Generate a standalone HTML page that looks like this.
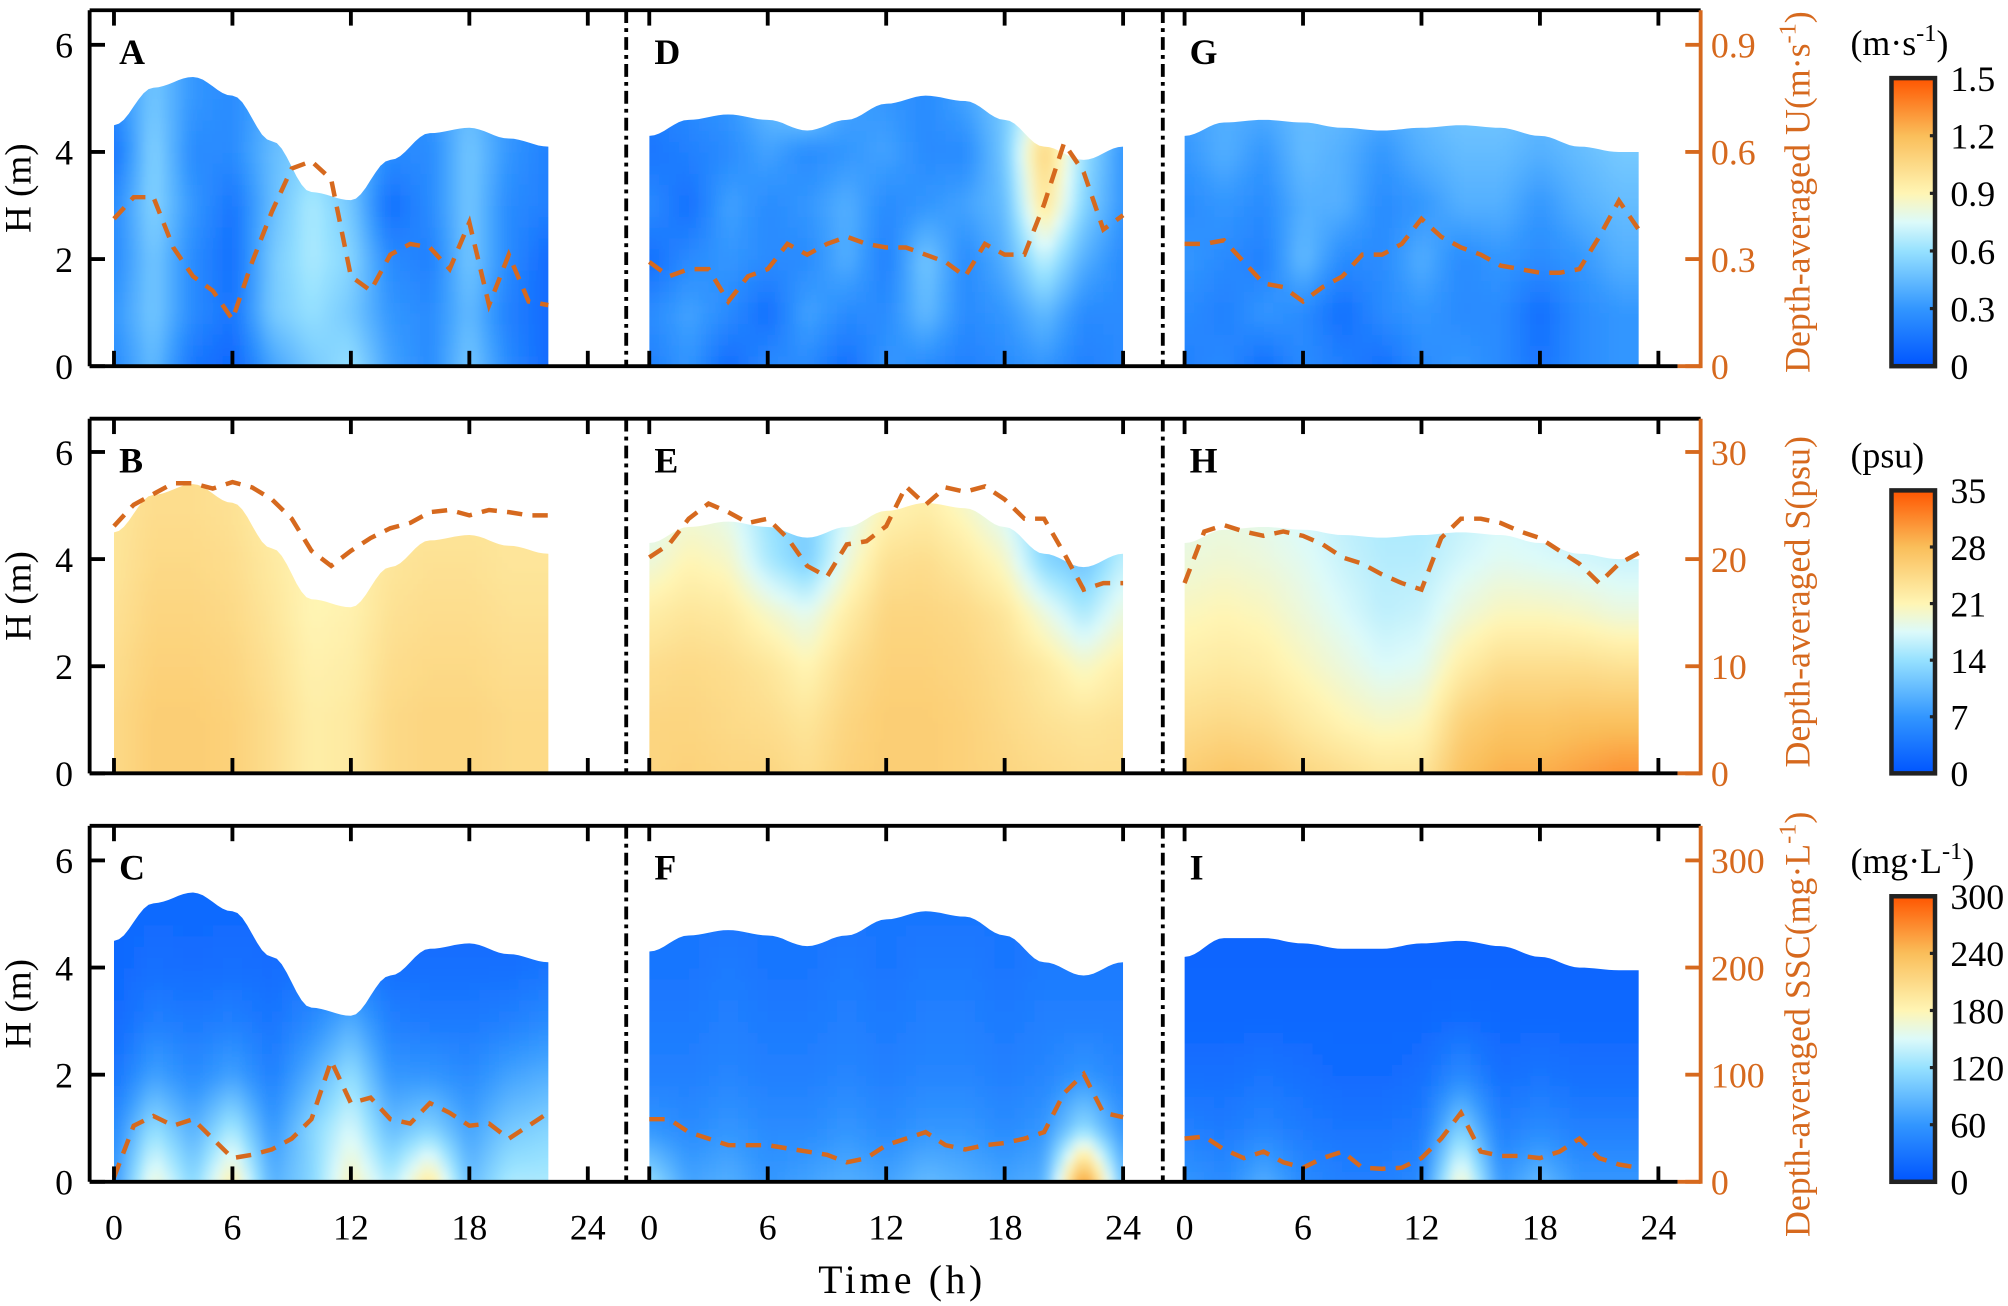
<!DOCTYPE html>
<html><head><meta charset="utf-8"><style>
html,body{margin:0;padding:0;background:#fff;overflow:hidden;}
svg{display:block;font-family:"Liberation Serif",serif;}
</style></head><body>
<svg id="chart" width="2008" height="1306" viewBox="0 0 1568 1020" preserveAspectRatio="none" xmlns="http://www.w3.org/2000/svg">
<defs>
<filter id="blur" x="-5%" y="-5%" width="110%" height="110%"><feGaussianBlur stdDeviation="3.5"/></filter>
<linearGradient id="cmap" x1="0" y1="1" x2="0" y2="0">
<stop offset="0" stop-color="rgb(0,85,255)"/><stop offset="0.2" stop-color="rgb(50,150,255)"/>
<stop offset="0.4" stop-color="rgb(150,225,255)"/><stop offset="0.5" stop-color="rgb(220,250,250)"/>
<stop offset="0.6" stop-color="rgb(255,245,180)"/><stop offset="0.8" stop-color="rgb(250,190,90)"/>
<stop offset="1" stop-color="rgb(255,85,0)"/>
</linearGradient>
</defs>
<g id="root"></g>
</svg>
<script>
// ---- data ----
const timeTicks = [0, 6, 12, 18, 24];
const depthTicks = [0, 2, 4, 6];
const rightTicksU = [0, 0.3, 0.6, 0.9];
const rightTicksS = [0, 10, 20, 30];
const rightTicksSSC = [0, 100, 200, 300];
const cbTicksU = ["0","0.3","0.6","0.9","1.2","1.5"];
const cbTicksS = ["0","7","14","21","28","35"];
const cbTicksSSC = ["0","60","120","180","240","300"];
// surface height (m), every 2 h
const surf1 = [4.5,5.2,5.4,5.05,4.2,3.25,3.1,3.85,4.35,4.45,4.25,4.1];
const surf2 = [4.3,4.6,4.7,4.6,4.4,4.6,4.9,5.05,4.95,4.6,4.1,3.85,4.1];
const surf3 = [4.3,4.55,4.6,4.55,4.45,4.4,4.45,4.5,4.45,4.3,4.1,4.0];
const surf3c = [4.2,4.55,4.55,4.45,4.35,4.35,4.45,4.5,4.4,4.2,4.0,3.95];
// depth-averaged series, hourly
const lineA = [0.41,0.47,0.47,0.33,0.25,0.21,0.13,0.29,0.43,0.55,0.57,0.52,0.25,0.21,0.31,0.34,0.33,0.27,0.40,0.17,0.31,0.18,0.17];
const lineD = [0.29,0.25,0.27,0.27,0.18,0.25,0.27,0.34,0.31,0.34,0.36,0.34,0.33,0.33,0.31,0.29,0.25,0.34,0.31,0.31,0.45,0.62,0.54,0.38,0.42];
const lineG = [0.34,0.34,0.35,0.29,0.23,0.22,0.18,0.22,0.25,0.31,0.31,0.34,0.41,0.36,0.33,0.31,0.28,0.27,0.26,0.26,0.27,0.36,0.46,0.38];
const lineB = [23,25,26,27,27,26.5,27.1,26.6,25.5,23.7,20.7,19.3,20.7,21.9,22.8,23.3,24.3,24.5,24,24.5,24.3,24,24];
const lineE = [20.1,21.3,23.7,25.1,24.3,23.3,23.7,21.9,19.3,18.3,21.3,21.6,23,26.7,25,26.6,26.2,26.7,25.5,23.7,23.7,20.5,17.1,17.7,17.7];
const lineH = [17.7,22.5,23.1,22.5,22.1,22.5,22.1,21.3,20.1,19.5,18.5,17.7,17.1,21.9,23.7,23.7,23.3,22.5,21.9,20.7,19.5,17.7,19.5,20.5];
const lineC = [4,52,61,52,58,40,22,25,30,40,58,112,73,78,58,54,73,64,52,54,40,52,64];
const lineF = [58,58,46,40,34,34,34,31,28,25,18,22,34,40,46,34,30,34,36,40,46,82,100,64,60];
const lineI = [40,42,30,22,28,18,13,22,28,13,12,13,22,40,64,28,24,24,22,28,40,22,16,13];
// fields: rows z = 0..5 m, columns every 2 h
const fieldA = [
[0.25,0.45,0.15,0.08,0.35,0.5,0.6,0.35,0.25,0.5,0.25,0.1],
[0.3,0.5,0.25,0.15,0.5,0.6,0.5,0.3,0.25,0.45,0.2,0.1],
[0.25,0.5,0.25,0.12,0.5,0.65,0.55,0.25,0.2,0.5,0.25,0.1],
[0.25,0.55,0.3,0.15,0.45,0.65,0.5,0.12,0.25,0.5,0.25,0.2],
[0.15,0.55,0.25,0.25,0.45,0.55,0.45,0.25,0.25,0.5,0.3,0.2],
[0.25,0.5,0.3,0.25,0.4,0.5,0.4,0.25,0.3,0.45,0.3,0.25]];
const fieldD = [
[0.2,0.3,0.1,0.25,0.25,0.12,0.3,0.25,0.2,0.25,0.3,0.2,0.25],
[0.25,0.35,0.25,0.12,0.35,0.25,0.25,0.45,0.25,0.3,0.45,0.25,0.25],
[0.12,0.25,0.3,0.25,0.25,0.4,0.2,0.5,0.25,0.4,0.7,0.4,0.25],
[0.25,0.12,0.35,0.25,0.3,0.4,0.25,0.3,0.35,0.45,1.0,0.55,0.3],
[0.15,0.2,0.25,0.35,0.25,0.3,0.35,0.25,0.25,0.5,1.1,0.6,0.3],
[0.2,0.25,0.3,0.45,0.6,0.35,0.3,0.25,0.35,0.5,0.8,0.7,0.35]];
const fieldG = [
[0.2,0.25,0.12,0.25,0.2,0.12,0.25,0.3,0.25,0.15,0.25,0.3],
[0.25,0.2,0.3,0.25,0.12,0.25,0.3,0.25,0.25,0.12,0.25,0.3],
[0.3,0.25,0.2,0.45,0.25,0.25,0.4,0.25,0.3,0.25,0.3,0.4],
[0.25,0.3,0.25,0.4,0.4,0.25,0.3,0.4,0.4,0.3,0.4,0.45],
[0.3,0.4,0.3,0.45,0.4,0.3,0.4,0.45,0.45,0.4,0.45,0.5],
[0.35,0.4,0.4,0.45,0.45,0.4,0.45,0.5,0.5,0.45,0.5,0.6]];
const fieldB = [
[24.5,26,26,25.5,24,22,22.5,24.5,25,25,24.5,24.5],
[24.5,26,26,25.5,24,22,22.5,24.5,25,25,24.5,24.5],
[24,25.5,25.5,25,23.5,21.5,22,24,24.5,24.5,24,24],
[23.5,25,25,24.5,23,21,21.5,23.5,24,24,23.5,23.5],
[23,24.5,24.5,24,22.5,21,21,23,23.5,23.5,23,23],
[23,24,24,23.5,22,21,21,22.5,23,23,23,23]];
const fieldE = [
[25,25.5,25,25,24,25.5,26,26,25.5,25,24.5,24,24],
[25,25,24.5,24,23,25,26,26,25.5,24.5,23.5,23,23.5],
[24,24.5,24,23,21,24,25.5,25.5,25,24,22.5,20,22],
[22,23,22.5,20,18,22,25,25,24.5,23,19,15,19],
[19,21,20,15,12,19,23.5,24,22.5,20,13,11,16],
[17,19,18,14,12,17,21,22,20,17,12,11,14]];
const fieldH = [
[26,27,26.5,25,24,23,23,27.5,29,29,30,31],
[24,24.5,24,22.5,21,20,20.5,25.5,27,27,27.5,27.5],
[22,22.5,22,20.5,19,17.5,18,22,24,24,24,23.5],
[20.5,21,20.5,19,17.5,16,16.5,19,20.5,20.5,20,19],
[19,19.5,19,18,16.5,15.5,15.5,17,18,17.5,17,16.5],
[18,18.5,18,17,16,15,15,16,17,16.5,16,16]];
const fieldC = [
[60,170,110,190,80,110,180,130,200,90,130,130],
[50,120,80,130,60,110,150,90,110,70,100,110],
[30,70,50,70,40,80,120,60,60,50,70,80],
[20,40,35,40,30,50,80,40,35,35,40,50],
[18,25,22,25,22,30,40,25,25,25,25,30],
[18,20,20,20,20,25,25,20,20,20,20,25]];
const fieldF = [
[120,70,80,60,70,80,70,90,80,70,80,280,90],
[60,50,60,50,50,60,50,60,60,50,60,120,60],
[40,40,45,40,40,45,40,45,45,40,45,60,45],
[35,35,40,35,35,40,35,40,40,35,40,40,40],
[30,30,35,30,30,35,30,35,35,30,35,35,35],
[30,30,30,30,30,30,30,30,30,30,30,30,30]];
const fieldI = [
[60,50,80,50,40,40,50,180,60,90,60,60],
[40,35,45,35,30,30,35,110,40,50,40,40],
[25,25,30,25,20,20,25,50,25,30,25,25],
[18,18,18,18,18,18,18,22,18,18,18,18],
[15,15,15,15,15,15,15,15,15,15,15,15],
[15,15,15,15,15,15,15,15,15,15,15,15]];

// ---- geometry ----
const NS = "http://www.w3.org/2000/svg";
const root = document.getElementById("root");
const colX0 = [89, 507, 925];
const pxPerHour = 370 / 24;
const rowBase = [286, 604, 923];
const rowTop = [8, 327, 645];
const pxPerM = 251 / 6;
const ORANGE = "rgb(214,105,30)";
function xs(c, h) { return colX0[c] + h * pxPerHour; }
function ys(r, m) { return rowBase[r] - m * pxPerM; }
function el(tag, attrs, parent) {
  const e = document.createElementNS(NS, tag);
  for (const k in attrs) e.setAttribute(k, attrs[k]);
  (parent || root).appendChild(e);
  return e;
}
function txt(s, x, y, attrs, parent) {
  const t = el("text", Object.assign({x: x, y: y}, attrs), parent);
  t.textContent = s;
  return t;
}
const stops = [[0,[0,85,255]],[0.2,[50,150,255]],[0.4,[150,225,255]],[0.5,[220,250,250]],[0.6,[255,245,180]],[0.8,[250,190,90]],[1,[255,85,0]]];
function cmap(f) {
  f = Math.max(0, Math.min(1, f));
  for (let i = 1; i < stops.length; i++) {
    if (f <= stops[i][0]) {
      const a = stops[i-1], b = stops[i], t = (f - a[0]) / (b[0] - a[0]);
      return "rgb(" + [0,1,2].map(k => Math.round(a[1][k] + t * (b[1][k] - a[1][k]))).join(",") + ")";
    }
  }
  return "rgb(255,85,0)";
}
function sample(field, h, z) {
  const nc = field[0].length, nr = field.length;
  let c = Math.max(0, Math.min(nc - 1, h / 2)), r = Math.max(0, Math.min(nr - 1, z));
  const c0 = Math.floor(c), r0 = Math.floor(r);
  const c1 = Math.min(nc - 1, c0 + 1), r1 = Math.min(nr - 1, r0 + 1);
  const tc = c - c0, tr = r - r0;
  const a = field[r0][c0] * (1 - tc) + field[r0][c1] * tc;
  const b = field[r1][c0] * (1 - tc) + field[r1][c1] * tc;
  return a * (1 - tr) + b * tr;
}
function surfAt(surf, h) {
  const c = Math.max(0, Math.min(surf.length - 1, h / 2)), c0 = Math.floor(c), c1 = Math.min(surf.length - 1, c0 + 1);
  const t = (1 - Math.cos(Math.PI * (c - c0))) / 2;
  return surf[c0] + (surf[c1] - surf[c0]) * t;
}

const panels = [
  {c:0,r:0,L:"a",field:fieldA,surf:surf1,line:lineA,end:22,vmax:1.5,rmax:0.99},
  {c:1,r:0,L:"d",field:fieldD,surf:surf2,line:lineD,end:24,vmax:1.5,rmax:0.99},
  {c:2,r:0,L:"g",field:fieldG,surf:surf3,line:lineG,end:23,vmax:1.5,rmax:0.99},
  {c:0,r:1,L:"b",field:fieldB,surf:surf1,line:lineB,end:22,vmax:35,rmax:33},
  {c:1,r:1,L:"e",field:fieldE,surf:surf2,line:lineE,end:24,vmax:35,rmax:33},
  {c:2,r:1,L:"h",field:fieldH,surf:surf3,line:lineH,end:23,vmax:35,rmax:33},
  {c:0,r:2,L:"c",field:fieldC,surf:surf1,line:lineC,end:22,vmax:300,rmax:330},
  {c:1,r:2,L:"f",field:fieldF,surf:surf2,line:lineF,end:24,vmax:300,rmax:330},
  {c:2,r:2,L:"i",field:fieldI,surf:surf3c,line:lineI,end:23,vmax:300,rmax:330}
];

panels.forEach((p, i) => {
  const letter = p.L.toUpperCase();
  const g = el("g", {});
  
  
  let pts = [[xs(p.c,0), ys(p.r,0)]];
  for (let h = 0; h <= p.end + 0.001; h += 0.25) pts.push([xs(p.c,h), ys(p.r, surfAt(p.surf, h))]);
  pts.push([xs(p.c,p.end), ys(p.r,0)]);
  const cp = el("clipPath", {id: "clip" + i});
  el("polygon", {points: pts.map(q => q[0].toFixed(1) + "," + q[1].toFixed(1)).join(" ")}, cp);
  const cg = el("g", {"clip-path": "url(#clip" + i + ")"}, g);
  const hg = el("g", {filter: "url(#blur)"}, cg);
  
  
  const dh = 0.5, dz = 0.2;
  for (let h = -1; h < p.end + 1; h += dh) {
    for (let z = -0.4; z < 6.2; z += dz) {
      const v = sample(p.field, h + dh/2, z + dz/2);
      el("rect", {x: xs(p.c,h).toFixed(1), y: ys(p.r, z + dz).toFixed(1), width: (dh*pxPerHour+0.6).toFixed(1), height: (dz*pxPerM+0.6).toFixed(1), fill: cmap(v / p.vmax)}, hg);
    }
  }
  const lp = p.line.map((v, h) => xs(p.c,h).toFixed(1) + "," + (rowBase[p.r] - v / p.rmax * (rowBase[p.r]-rowTop[p.r])).toFixed(1));
  const pl = el("polyline", {points: lp.join(" "), fill: "none", stroke: ORANGE, "stroke-width": 3.5, "stroke-dasharray": "12 8"}, g);
  
  
  const lt = txt(letter, xs(p.c,0) + 4, rowTop[p.r] + 42, {"font-size": 28, "font-weight": "bold"}, g);
  
  
});

const rightTicks = [rightTicksU, rightTicksS, rightTicksSSC];
const rightScale = [0.9/6, 30/6, 300/6];
const rightTitles = [["Depth-averaged U(m·s","-1",")"],["Depth-averaged S(psu)","",""],["Depth-averaged SSC(mg·L","-1",")"]];
for (let r = 0; r < 3; r++) {
  const ax = el("g", {});
  
  
  const t = rowTop[r], b = rowBase[r];
  el("line", {x1:70, y1:t, x2:1328, y2:t, stroke:"#000", "stroke-width":3}, ax);
  el("line", {x1:70, y1:b, x2:1310, y2:b, stroke:"#000", "stroke-width":3}, ax);
  el("line", {x1:70, y1:t, x2:70, y2:b, stroke:"#000", "stroke-width":3}, ax);
  el("line", {x1:1310, y1:b, x2:1328, y2:b, stroke:ORANGE, "stroke-width":3}, ax);
  el("line", {x1:1328, y1:t, x2:1328, y2:b+1.5, stroke:ORANGE, "stroke-width":3}, ax);
  [489, 908].forEach(x => el("line", {x1:x, y1:t, x2:x, y2:b, stroke:"#000", "stroke-width":3, "stroke-dasharray":"10 4 3 4"}, ax));
  for (let c = 0; c < 3; c++) timeTicks.forEach(h => {
    const x = xs(c,h);
    el("line", {x1:x, y1:t, x2:x, y2:t+12, stroke:"#000", "stroke-width":3}, ax);
    el("line", {x1:x, y1:b, x2:x, y2:b-12, stroke:"#000", "stroke-width":3}, ax);
  });
  depthTicks.forEach(m => {
    const y = ys(r,m);
    el("line", {x1:70, y1:y, x2:82, y2:y, stroke:"#000", "stroke-width":3}, ax);
    txt(String(m), 50, y + 10, {"font-size":28, "text-anchor":"middle"}, ax);
  });
  rightTicks[r].forEach(v => {
    const y = rowBase[r] - v / rightScale[r] * pxPerM;
    el("line", {x1:1316, y1:y, x2:1328, y2:y, stroke:ORANGE, "stroke-width":3}, ax);
    txt(String(v), 1336, y + 10, {"font-size":28, fill:ORANGE}, ax);
  });
  const yl = txt("H (m)", 0, 0, {"font-size":29, "text-anchor":"middle", transform:"translate(24," + ((t+b)/2) + ") rotate(-90)"}, ax);
  
  
  const rt = rightTitles[r];
  const cy = r === 2 ? 800 : (r === 1 ? 470 : 150);
  const rtt = el("text", {"font-size":28, fill:ORANGE, "text-anchor":"middle", transform:"translate(1413," + cy + ") rotate(-90)"}, ax);
  
  
  const s1 = el("tspan", {}, rtt); s1.textContent = rt[0];
  if (rt[1]) { const s2 = el("tspan", {dy:-11, "font-size":19}, rtt); s2.textContent = rt[1]; const s3 = el("tspan", {dy:11}, rtt); s3.textContent = rt[2]; }
}
for (let c = 0; c < 3; c++) timeTicks.forEach(h => txt(String(h), xs(c,h), 968, {"font-size":28, "text-anchor":"middle"}));
const xt = txt("Time (h)", 703, 1010, {"font-size":31, "text-anchor":"middle", textLength:128});



// colorbars
const cbTop = [61, 383, 700], cbBot = [286, 604, 923];
const cbLabels = [cbTicksU, cbTicksS, cbTicksSSC];
const cbTitles = [["(m·s","-1",")"],["(psu)","",""],["(mg·L","-1",")"]];
for (let r = 0; r < 3; r++) {
  const g = el("g", {});
  
  
  el("rect", {x:1477, y:cbTop[r], width:34, height:cbBot[r]-cbTop[r], fill:"url(#cmap)", stroke:"#222", "stroke-width":3.5}, g);
  cbLabels[r].forEach((s, k) => {
    const y = cbBot[r] - k * (cbBot[r]-cbTop[r]) / 5;
    if (k > 0 && k < 5) el("line", {x1:1507, y1:y, x2:1511, y2:y, stroke:"#222", "stroke-width":2.5}, g);
    txt(s, 1523, y + 10, {"font-size":28}, g);
  });
  const tt = el("text", {x:1445, y:cbTop[r] - 18, "font-size":28}, g);
  const a = el("tspan", {}, tt); a.textContent = cbTitles[r][0];
  if (cbTitles[r][1]) { const b2 = el("tspan", {dy:-11, "font-size":19}, tt); b2.textContent = cbTitles[r][1]; const c2 = el("tspan", {dy:11}, tt); c2.textContent = cbTitles[r][2]; }
}
</script>
</body></html>
